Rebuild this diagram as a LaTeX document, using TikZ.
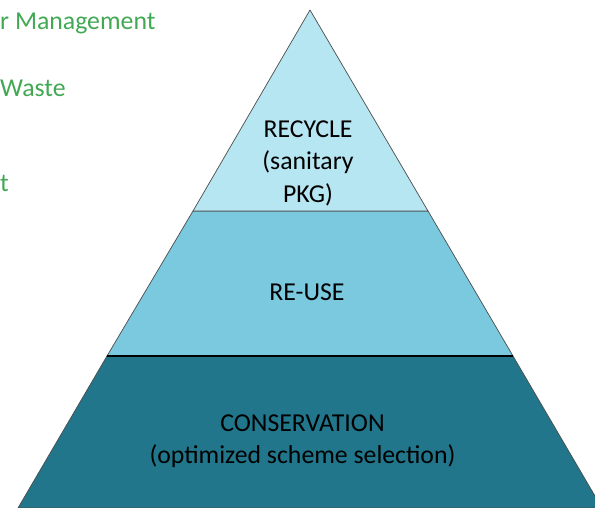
\documentclass[tikz,border=0pt]{standalone}
\usepackage{fontspec}
\setmainfont{Carlito}
\usepackage{tikz}
\usetikzlibrary{calc}
\usepackage{tkz-euclide}

\definecolor{tiertop}{RGB}{182,230,241}
\definecolor{tiermid}{RGB}{122,201,223}
\definecolor{tierbase}{RGB}{33,118,139}
\definecolor{notegreen}{RGB}{66,168,84}

\tikzset{
  tier/.style={draw=black!70, line width=0.6pt, line join=round},
  tiertext/.style={align=center, inner sep=0pt, text=black,
    font=\fontsize{22}{27.7}\selectfont},
  sidenote/.style={anchor=base west, inner sep=0pt, text=notegreen,
    font=\fontsize{22}{24}\selectfont}
}

\begin{document}
\begin{tikzpicture}[scale=0.3]
  \useasboundingbox (0,0) rectangle (59.5,50.8);
  \clip (0,0) rectangle (59.5,50.8);
  % apex, tier cuts and base corners
  \tkzDefPoints{31/49.8/A, 19.3/29.7/B, 42.8/29.7/C, 10.7/15.2/D, 51.3/15.2/E, 1.8/0/F, 60.2/0/G}
  \filldraw[tier, fill=tierbase] (D) -- (E) -- (G) -- (F) -- cycle;
  \filldraw[tier, fill=tiermid] (B) -- (C) -- (E) -- (D) -- cycle;
  \filldraw[tier, fill=tiertop] (A) -- (C) -- (B) -- cycle;
  \draw[line width=1.7pt] (D) -- (E);
  \node[tiertext] (recycle) at (30.8,34.5) {RECYCLE\\(sanitary\\PKG)};
  \node[tiertext] (reuse) at (30.7,21.55) {RE-USE};
  \node[tiertext] (conservation) at (30.25,6.7) {CONSERVATION\\(optimized scheme selection)};
  % text running in from the left
  \node[sidenote] (management) at (0,47.8) {r Management};
  \node[sidenote] (waste) at (0,41.1) {Waste};
  \node[sidenote] (lastnote) at (0,31.6) {t};
\end{tikzpicture}
\end{document}
